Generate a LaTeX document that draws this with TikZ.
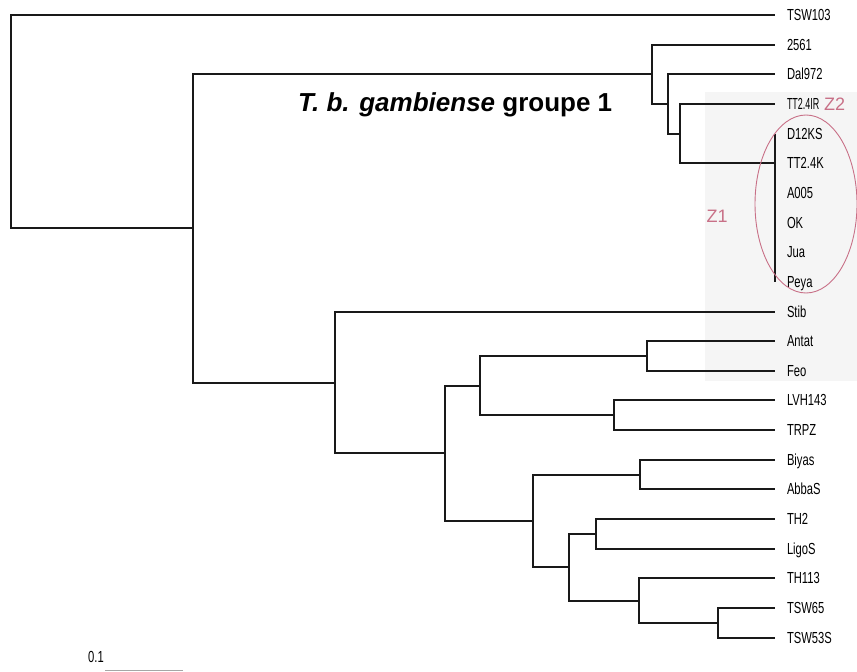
\documentclass[tikz,border=0pt]{standalone}
\usepackage{fontspec}
\setmainfont{Liberation Sans}
\newfontfamily\leaffont[FakeStretch=0.7]{Liberation Sans}
\newfontfamily\tightfont[FakeStretch=0.56]{Liberation Sans}
\definecolor{zpink}{RGB}{200,112,135}
\definecolor{panelgray}{RGB}{245,245,245}
\begin{document}
\begin{tikzpicture}[x=1pt,y=-1pt,
  branch/.style={line width=2pt,line join=miter,black!90},
  leaf/.style={anchor=west,inner xsep=12pt,inner ysep=0pt,outer sep=0pt,
    font=\leaffont\fontsize{16}{17}\selectfont,text height=11.2pt,text depth=0pt},
  zlab/.style={text=zpink,font=\fontsize{18}{20}\selectfont,inner sep=0pt}]
\useasboundingbox (0,0) rectangle (857,672);
\clip (0,0) rectangle (857,672);
% pale panel behind the Z1/Z2 strains
\fill[panelgray] (705,92) rectangle (857,381);

% leaf labels (tips end at x = 775)
\node[leaf] (L0)  at (775,15)  {TSW103};
\node[leaf] (L1)  at (775,45)  {2561};
\node[leaf] (L2)  at (775,74)  {Dal972};
\node[leaf,font=\tightfont\fontsize{16}{17}\selectfont] (L3) at (775,104) {TT2.4IR};
\node[leaf] (L4)  at (775,134) {D12KS};
\node[leaf] (L5)  at (775,163) {TT2.4K};
\node[leaf] (L6)  at (775,193) {A005};
\node[leaf] (L7)  at (775,223) {OK};
\node[leaf] (L8)  at (775,252) {Jua};
\node[leaf] (L9)  at (775,282) {Peya};
\node[leaf] (L10) at (775,312) {Stib};
\node[leaf] (L11) at (775,341) {Antat};
\node[leaf] (L12) at (775,371) {Feo};
\node[leaf] (L13) at (775,400) {LVH143};
\node[leaf] (L14) at (775,430) {TRPZ};
\node[leaf] (L15) at (775,460) {Biyas};
\node[leaf] (L16) at (775,489) {AbbaS};
\node[leaf] (L17) at (775,519) {TH2};
\node[leaf] (L18) at (775,549) {LigoS};
\node[leaf] (L19) at (775,578) {TH113};
\node[leaf] (L20) at (775,608) {TSW65};
\node[leaf] (L21) at (775,638) {TSW53S};

% internal nodes
\coordinate (root) at (11,122);
\coordinate (n193) at (193,228);
\coordinate (n652) at (652,74);
\coordinate (n668) at (668,104);
\coordinate (n680) at (680,134);
\coordinate (n335) at (335,383);
\coordinate (n445) at (445,453);
\coordinate (n480) at (480,386);
\coordinate (n647) at (647,356);
\coordinate (n614) at (614,415);
\coordinate (n533) at (533,521);
\coordinate (n640) at (640,475);
\coordinate (n569) at (569,567);
\coordinate (n596) at (596,534);
\coordinate (n639) at (639,601);
\coordinate (n718) at (718,623);

% branches
\draw[branch] (root) |- (L0.west);
\draw[branch] (root) |- (n193);
\draw[branch] (n193) |- (n652);
\draw[branch] (n193) |- (n335);
\draw[branch] (n652) |- (L1.west);
\draw[branch] (n652) |- (n668);
\draw[branch] (n668) |- (L2.west);
\draw[branch] (n668) |- (n680);
\draw[branch] (n680) |- (L3.west);
\draw[branch] (n680) |- (L5.west);
\draw[branch,line width=1.5pt] (L4.west) -- (L9.west);
\draw[branch] (n335) |- (L10.west);
\draw[branch] (n335) |- (n445);
\draw[branch] (n445) |- (n480);
\draw[branch] (n445) |- (n533);
\draw[branch] (n480) |- (n647);
\draw[branch] (n480) |- (n614);
\draw[branch] (n647) |- (L11.west);
\draw[branch] (n647) |- (L12.west);
\draw[branch] (n614) |- (L13.west);
\draw[branch] (n614) |- (L14.west);
\draw[branch] (n533) |- (n640);
\draw[branch] (n533) |- (n569);
\draw[branch] (n640) |- (L15.west);
\draw[branch] (n640) |- (L16.west);
\draw[branch] (n569) |- (n596);
\draw[branch] (n569) |- (n639);
\draw[branch] (n596) |- (L17.west);
\draw[branch] (n596) |- (L18.west);
\draw[branch] (n639) |- (L19.west);
\draw[branch] (n639) |- (n718);
\draw[branch] (n718) |- (L20.west);
\draw[branch] (n718) |- (L21.west);

% group label
\node[anchor=base west,inner sep=0pt,font=\bfseries\fontsize{26}{28}\selectfont] (grp)
  at (298,111) {\textit{T. b. gambiense} groupe 1};

% Z1 cluster outline and zone labels
\draw[zpink,line width=0.9pt] (806,204) ellipse [x radius=51,y radius=89];
\node[zlab] (z1) at (717,216) {Z1};
\node[zlab,anchor=west] (z2) at (824,104) {Z2};

% scale bar
\node[font=\leaffont\fontsize{16}{17}\selectfont,inner sep=0pt] (sc) at (96,657) {0.1};
\coordinate (sbA) at (105,670.5);
\coordinate (sbB) at (183,670.5);
\draw[black!35,line width=1.2pt] (sbA) -- (sbB);
\end{tikzpicture}
\end{document}
